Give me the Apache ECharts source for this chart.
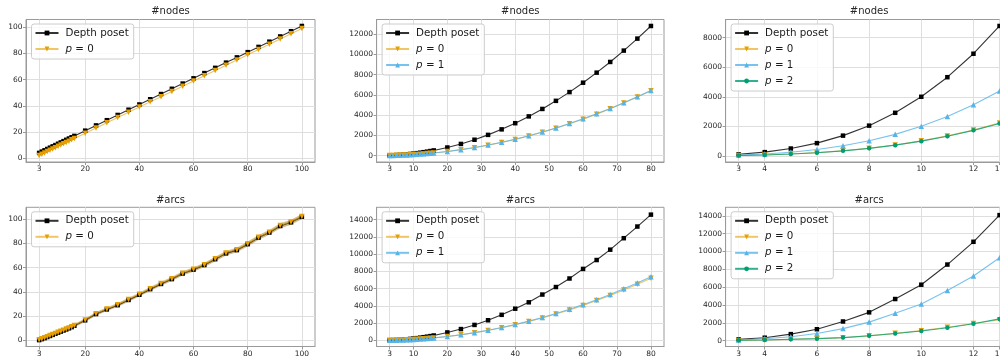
<!DOCTYPE html>
<html><head><meta charset="utf-8">
<script src="https://cdn.jsdelivr.net/npm/echarts@6/dist/echarts.min.js"></script>
<style>html,body{margin:0;padding:0;background:#fff;overflow:hidden;width:1000px;height:358px}#c{width:1020px;height:358px}</style>
</head><body><div id="c"></div>
<script>
// ---------- data ----------
const titles = ['#nodes', '#nodes', '#nodes', '#arcs', '#arcs', '#arcs'];

const xsA = [3,4,5,6,7,8,9,10,11,12,13,14,15,16,20,24,28,32,36,40,44,48,52,56,60,64,68,72,76,80,84,88,92,96,100];
const xsB = [3,4,5,6,7,8,9,10,11,12,13,14,15,16,20,24,28,32,36,40,44,48,52,56,60,64,68,72,76,80];
const xsC = [3,4,5,6,7,8,9,10,11,12,13];

const nodesDepthA = [4,5,6,7,8,9,10,11,12,13,14,15,16,17,21,25,29,33,37,41,45,49,53,57,61,65,69,73,77,81,85,89,93,97,101];
const nodesP0A    = [2,3,4,5,6,7,8,9,10,11,12,13,14,15,19,23,27,31,35,39,43,47,51,55,59,63,67,71,75,79,83,87,91,95,99];

const nodesDepthB = [18,32,50,72,98,128,162,200,242,288,338,392,450,512,800,1152,1568,2048,2592,3200,3872,4608,5408,6272,7200,8192,9248,10368,11552,12800];
const nodesP0B    = [9,16,25,36,49,64,81,100,121,144,169,196,225,256,400,576,784,1024,1296,1600,1936,2304,2704,3136,3600,4096,4624,5184,5776,6400];
const nodesP1B    = [10,17,27,38,51,67,84,104,125,149,174,202,231,263,410,588,798,1040,1314,1620,1958,2328,2730,3164,3630,4128,4658,5220,5814,6440];

const nodesDepthC = [108,256,500,864,1372,2048,2916,4000,5324,6912,8788];
const nodesP0C    = [28,66,128,220,350,522,742,1018,1354,1758,2234];
const nodesP1C    = [54,128,250,432,686,1024,1458,2000,2662,3456,4394];
const nodesP2C    = [27,64,125,216,343,512,729,1000,1331,1728,2197];

const arcsDepthA = [0.3,1.1,1.9,2.8,3.7,4.6,5.5,6.4,7.3,8.2,9.1,10.0,11.0,12.1,16.6,21.8,25.6,29.1,33.4,37.7,42.3,46.6,50.6,55.2,58.4,62.2,67.0,71.8,74.5,79.4,84.8,89.0,94.4,97.4,102.0];
const arcsP0A    = [0.6,1.4,2.2,3.1,4.0,4.9,5.8,6.7,7.6,8.5,9.4,10.3,11.3,12.4,16.9,22.1,25.9,29.4,33.7,38.0,42.6,46.9,50.9,55.5,58.7,62.5,67.3,72.1,74.8,79.7,85.1,89.3,94.7,97.7,102.3];
const arcsStdA   = [0.7,0.8,0.8,0.9,0.9,1.0,1.0,1.1,1.1,1.1,1.2,1.2,1.2,1.3,1.3,1.4,1.4,1.5,1.5,1.5,1.6,1.6,1.6,1.7,1.7,1.7,1.8,1.8,1.8,1.9,1.9,1.9,2.0,2.0,2.0];

const arcsDepthB = [20,36,56,81,110,143,181,224,271,323,379,440,505,575,930,1320,1800,2340,2970,3680,4420,5320,6190,7180,8290,9320,10520,11850,13200,14580];
const arcsP0B    = [10,18,28,40,55,72,92,113,137,163,191,221,254,289,450,650,890,1160,1470,1810,2190,2610,3060,3540,4060,4620,5210,5840,6510,7210];
const arcsP1B    = [10,18,29,41,56,74,94,116,140,167,196,227,260,296,462,666,906,1186,1500,1850,2240,2670,3130,3620,4150,4720,5330,5980,6660,7370];

const arcsDepthC = [150,330,730,1276,2150,3172,4667,6271,8532,11084,14074];
const arcsP0C    = [30,65,140,215,330,540,820,1120,1500,1920,2350];
const arcsP1C    = [80,220,440,800,1350,2078,3063,4120,5615,7256,9297];
const arcsP2C    = [40,75,150,225,340,550,800,1090,1450,1900,2440];

const xTicksA = [3,20,40,60,80,100];
const xTicksB = [3,10,20,30,40,50,60,70,80];
const xTicksC = [3,4,6,8,10,12,13];
const yTicksNodesA = [0,20,40,60,80,100];
const yTicksNodesB = [0,2000,4000,6000,8000,10000,12000];
const yTicksNodesC = [0,2000,4000,6000,8000];
const yTicksArcsA  = [0,20,40,60,80,100];
const yTicksArcsB  = [0,2000,4000,6000,8000,10000,12000,14000];
const yTicksArcsC  = [0,2000,4000,6000,8000,10000,12000,14000];

// ---------- layout / style ----------
const FONT = 'DejaVu Sans';
const frameColor = '#9a9a9a';
const gridColor = '#dedede';
const C = { depth: '#000000', p0: '#E69F00', p1: '#56B4E9', p2: '#009E73' };
const cols = [{ left: 26, width: 289 }, { left: 376.6, width: 287.4 }, { left: 725.6, width: 287 }];
const rows = [{ top: 19.5, height: 142.5 }, { top: 207.3, height: 142.7 }];
const xRanges = [[-1.85, 104.85], [-0.85, 83.85], [2.5, 13.5]];
const yRanges = [[-2.95, 105.95], [-631, 13440], [-411, 9226], [-5, 109.8], [-700, 15430], [-656, 14951]];
const xTicks = [xTicksA, xTicksB, xTicksC];
const yTicks = [yTicksNodesA, yTicksNodesB, yTicksNodesC, yTicksArcsA, yTicksArcsB, yTicksArcsC];

const grids = [], xAxes = [], yAxes = [], titleArr = [], legends = [], series = [];
const pairs = (xs, ys) => xs.map((x, i) => [x, ys[i]]);
const downTri = 'path://M0,0 L10,0 L5,9 Z';

const styles = {
  'Depth poset': { color: C.depth, symbol: 'rect', size: 4.5, lineOpacity: 0.8 },
  'p=0': { color: C.p0, symbol: downTri, size: 5.5, lineOpacity: 0.6 },
  'p=1': { color: C.p1, symbol: 'triangle', size: 5.5, lineOpacity: 0.8 },
  'p=2': { color: C.p2, symbol: 'circle', size: 4.5, lineOpacity: 0.8 }
};
function line(name, g, xs, ys) {
  const s = styles[name];
  series.push({
    name, type: 'line', xAxisIndex: g, yAxisIndex: g, data: pairs(xs, ys),
    symbol: s.symbol, symbolSize: s.size, showSymbol: true,
    itemStyle: { color: s.color },
    lineStyle: { color: s.color, width: 1.1, opacity: s.lineOpacity },
    emphasis: { disabled: true }, z: 3
  });
}
// shaded +/- std band, drawn as one polygon through the axes' scales
function band(id, g, xs, ys, sd, color, op) {
  const data = xs.map((x, i) => [x, ys[i] - sd[i], ys[i] + sd[i]]);
  series.push({
    name: id, type: 'custom', xAxisIndex: g, yAxisIndex: g, data, silent: true, z: 2,
    encode: { x: 0, y: [1, 2] }, clip: true,
    renderItem: (params, api) => {
      if (params.dataIndex !== 0) return null;
      const top = data.map(d => api.coord([d[0], d[2]]));
      const bot = data.map(d => api.coord([d[0], d[1]])).reverse();
      return { type: 'polygon', shape: { points: top.concat(bot) },
        style: { fill: color, opacity: op, stroke: null } };
    }
  });
}

for (let r = 0; r < 2; r++) {
  for (let c = 0; c < 3; c++) {
    const g = r * 3 + c;
    grids.push({ left: cols[c].left, top: rows[r].top, width: cols[c].width, height: rows[r].height,
      show: true, borderColor: frameColor, borderWidth: 1, backgroundColor: 'transparent', containLabel: false });
    const axCommon = (ticks) => ({
      axisLine: { show: true, onZero: false, lineStyle: { color: frameColor, width: 1 } },
      axisTick: { show: true, length: 3, customValues: ticks, lineStyle: { color: frameColor } },
      axisLabel: { customValues: ticks, fontSize: 7.5, color: '#262626', fontFamily: FONT, margin: 3.5,
        formatter: v => String(v) },
      splitLine: { show: true, lineStyle: { color: gridColor, width: 1 } }
    });
    xAxes.push(Object.assign({ type: 'value', gridIndex: g, min: xRanges[c][0], max: xRanges[c][1] }, axCommon(xTicks[c])));
    yAxes.push(Object.assign({ type: 'value', gridIndex: g, min: yRanges[g][0], max: yRanges[g][1] }, axCommon(yTicks[g])));
    titleArr.push({ text: titles[g], left: cols[c].left + cols[c].width / 2, top: r === 0 ? 6.5 : 195, textAlign: 'center', padding: 0,
      textStyle: { fontSize: 10, fontWeight: 'normal', color: '#262626', fontFamily: FONT } });
    const ld = ['Depth poset', 'p=0', 'p=1', 'p=2'].slice(0, c + 2);
    legends.push({
      data: ld, orient: 'vertical', left: cols[c].left + 5.5, top: rows[r].top + 4.5,
      itemWidth: 23, itemHeight: 6, itemGap: 4, padding: [3, 5, 4, 3],
      backgroundColor: 'rgba(255,255,255,0.8)', borderColor: '#cccccc', borderWidth: 1, borderRadius: 2.5,
      selectedMode: false,
      formatter: n => n === 'Depth poset' ? n : '{i|p} = ' + n.slice(2),
      textStyle: { fontSize: 10.3, fontFamily: FONT, color: '#1a1a1a', lineHeight: 12, padding: [0, 0, 0, 2],
        rich: { i: { fontStyle: 'italic', fontSize: 10.3, fontFamily: FONT, color: '#1a1a1a', lineHeight: 12 } } }
    });
  }
}

// row 0: nodes
line('Depth poset', 0, xsA, nodesDepthA); line('p=0', 0, xsA, nodesP0A);
line('Depth poset', 1, xsB, nodesDepthB); line('p=0', 1, xsB, nodesP0B); line('p=1', 1, xsB, nodesP1B);
line('Depth poset', 2, xsC, nodesDepthC); line('p=0', 2, xsC, nodesP0C); line('p=1', 2, xsC, nodesP1C); line('p=2', 2, xsC, nodesP2C);
// row 1: arcs
band('bandDepth', 3, xsA, arcsDepthA, arcsStdA, '#000000', 0.22);
band('bandP0', 3, xsA, arcsP0A, arcsStdA, C.p0, 0.35);
line('Depth poset', 3, xsA, arcsDepthA); line('p=0', 3, xsA, arcsP0A);
line('Depth poset', 4, xsB, arcsDepthB); line('p=0', 4, xsB, arcsP0B); line('p=1', 4, xsB, arcsP1B);
line('Depth poset', 5, xsC, arcsDepthC); line('p=0', 5, xsC, arcsP0C); line('p=1', 5, xsC, arcsP1C); line('p=2', 5, xsC, arcsP2C);

const chart = echarts.init(document.getElementById('c'), null, { renderer: 'canvas', width: 1020, height: 358 });
chart.setOption({
  animation: false, backgroundColor: '#ffffff',
  title: titleArr, grid: grids, xAxis: xAxes, yAxis: yAxes, legend: legends, series
});
</script></body></html>
